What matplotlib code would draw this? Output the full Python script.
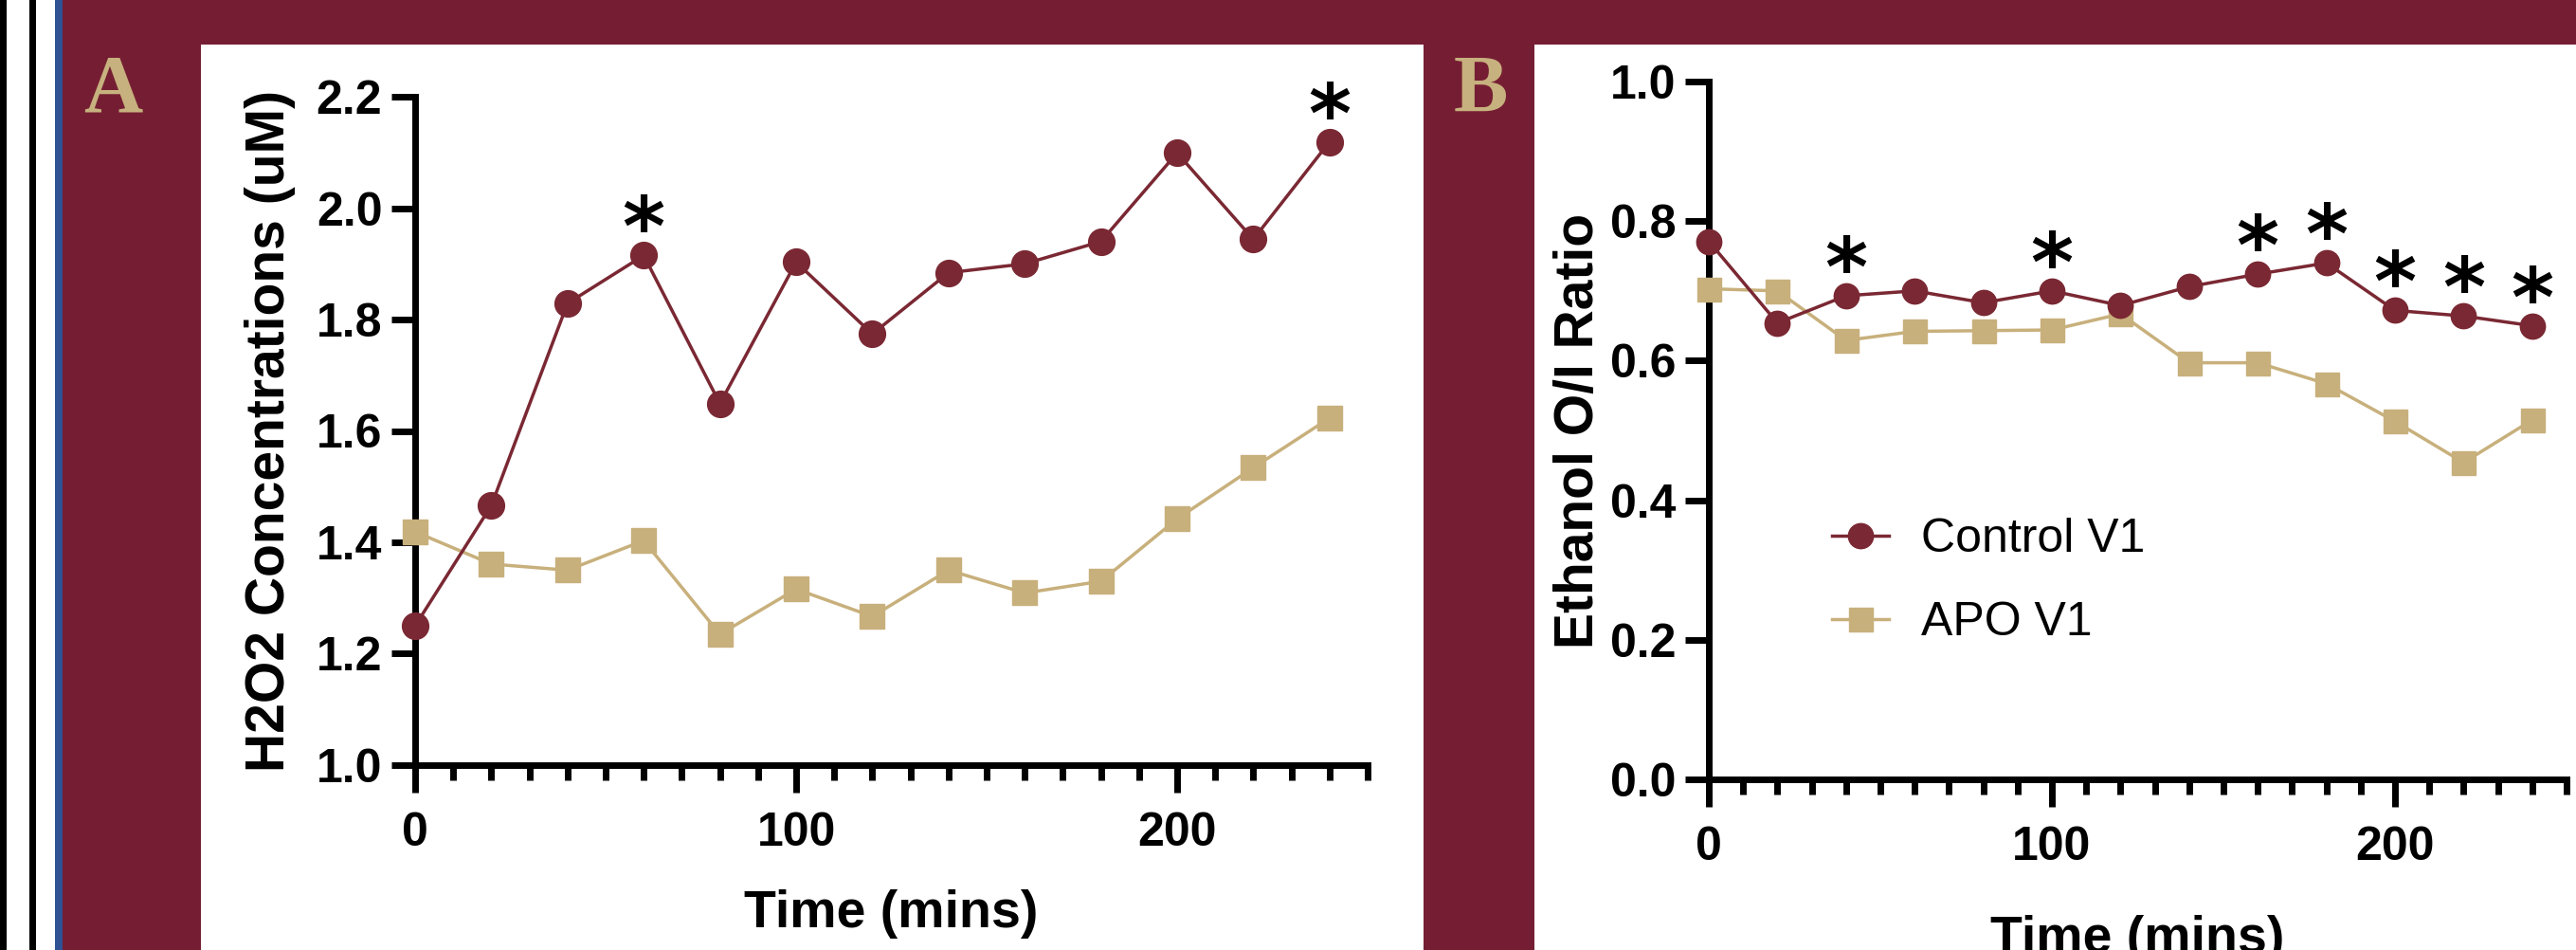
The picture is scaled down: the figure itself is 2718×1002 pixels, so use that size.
# two panel time course: H2O2 (A) and ethanol O/I ratio (B), control vs APO
import matplotlib.pyplot as plt
from matplotlib.patches import Rectangle
from matplotlib.ticker import MultipleLocator

# time points (mins)
time_mins = [0, 20, 40, 60, 80, 100, 120, 140, 160, 180, 200, 220, 240]

# panel A - H2O2 concentrations (uM)
h2o2_control = [1.25, 1.466, 1.829, 1.915, 1.649, 1.903, 1.774, 1.884, 1.900, 1.940, 2.099, 1.944, 2.119]
h2o2_apo = [1.419, 1.361, 1.350, 1.403, 1.235, 1.316, 1.267, 1.350, 1.309, 1.330, 1.442, 1.534, 1.623]
h2o2_star_times = [60, 240]

# panel B - ethanol O/I ratio
ethanol_control = [0.771, 0.654, 0.693, 0.700, 0.683, 0.700, 0.679, 0.706, 0.724, 0.740, 0.672, 0.664, 0.650]
ethanol_apo = [0.703, 0.700, 0.629, 0.642, 0.643, 0.644, 0.667, 0.597, 0.597, 0.567, 0.513, 0.454, 0.515]
ethanol_star_times = [40, 100, 160, 180, 200, 220, 240]

series_labels = ['Control V1', 'APO V1']

# colours
maroon_bg = '#751E33'
control_col = '#7A2833'
apo_col = '#C8B07C'
tan_letter = '#C7B17E'
blue_line = '#2E5294'

W, H = 2718, 1002
fig = plt.figure(figsize=(W / 100, H / 100), dpi=100)
fig.patch.set_facecolor(maroon_bg)


def px_rect(x0, y0, x1, y1):
    # pixel box (top-left origin) -> figure fraction [left, bottom, width, height]
    return [x0 / W, 1 - y1 / H, (x1 - x0) / W, (y1 - y0) / H]


def add_block(x0, y0, x1, y1, color):
    l, b, w, h = px_rect(x0, y0, x1, y1)
    fig.add_artist(Rectangle((l, b), w, h, transform=fig.transFigure,
                             facecolor=color, edgecolor='none', zorder=0))


# stripes on the left edge
add_block(0, 0, 7, H, 'black')
add_block(7, 0, 31, H, 'white')
add_block(31, 0, 38, H, 'black')
add_block(38, 0, 58, H, 'white')
add_block(58, 0, 66, H, blue_line)

# white panels
add_block(212, 47, 1502, H, 'white')
add_block(1619, 47, W, H, 'white')

# panel letters
fig.text(88 / W, 1 - 118 / H, 'A', color=tan_letter, fontsize=62, fontweight='bold',
         family='Liberation Serif', ha='left', va='baseline')
fig.text(1534 / W, 1 - 118 / H, 'B', color=tan_letter, fontsize=62, fontweight='bold',
         family='Liberation Serif', ha='left', va='baseline')

font = 'Liberation Sans'
spine_w = 5


def style_axes(ax, ylo, yhi, ystep, ylabel, ylab_x, xlab_y):
    ax.set_facecolor('none')
    for side in ['top', 'right']:
        ax.spines[side].set_visible(False)
    for side in ['left', 'bottom']:
        ax.spines[side].set_linewidth(spine_w)
    ax.set_xlim(0, 250)
    ax.set_ylim(ylo, yhi)
    ax.xaxis.set_major_locator(MultipleLocator(100))
    ax.xaxis.set_minor_locator(MultipleLocator(10))
    ax.yaxis.set_major_locator(MultipleLocator(ystep))
    ax.tick_params(axis='x', which='major', length=21, width=spine_w, pad=14, labelsize=36)
    ax.tick_params(axis='x', which='minor', length=11.5, width=spine_w)
    ax.tick_params(axis='y', which='major', length=18, width=spine_w, pad=7, labelsize=36)
    for lab in ax.get_xticklabels() + ax.get_yticklabels():
        lab.set_family(font)
        lab.set_fontweight('bold')
    ax.set_ylabel(ylabel, fontsize=41, fontweight='bold', family=font)
    ax.set_xlabel('Time (mins)', fontsize=40, fontweight='bold', family=font)
    ax.yaxis.set_label_coords(ylab_x, 0.5)
    ax.xaxis.set_label_coords(0.5, xlab_y)


def plot_series(ax, control, apo, star_times, ms):
    ax.plot(time_mins, control, color=control_col, lw=2.5, marker='o', ms=ms,
            label=series_labels[0], clip_on=False, zorder=4)
    ax.plot(time_mins, apo, color=apo_col, lw=2.5, marker='s', ms=ms - 1,
            label=series_labels[1], clip_on=False, zorder=3)
    # significance stars above the control points
    for t in star_times:
        yv = control[time_mins.index(t)]
        ax.annotate('*', xy=(t, yv), xytext=(0, 0), textcoords='offset points',
                    ha='center', va='baseline', fontsize=62, fontweight='bold',
                    family='DejaVu Sans', color='black', annotation_clip=False)


# panel A
axA = fig.add_axes(px_rect(438, 102, 1443, 807))
plot_series(axA, h2o2_control, h2o2_apo, h2o2_star_times, 20)
style_axes(axA, 1.0, 2.2, 0.2, 'H2O2 Concentrations (uM)',
           (312 - 438) / (1443 - 438), (807 - 938) / (807 - 102))
axA.yaxis.set_major_formatter(plt.FormatStrFormatter('%.1f'))

# panel B
axB = fig.add_axes(px_rect(1803, 86, 2708, 822))
plot_series(axB, ethanol_control, ethanol_apo, ethanol_star_times, 19)
style_axes(axB, 0.0, 1.0, 0.2, 'Ethanol O/I Ratio',
           (1693 - 1803) / (2708 - 1803), (822 - 965) / (822 - 86))
axB.yaxis.set_major_formatter(plt.FormatStrFormatter('%.1f'))

leg = axB.legend(loc='upper left', bbox_to_anchor=(1933 / W, 1 - 546 / H),
                 bbox_transform=fig.transFigure, frameon=False, borderpad=0,
                 borderaxespad=0, handlelength=1.2, handletextpad=0.68,
                 labelspacing=0.84, prop={'family': font, 'size': 36})

fig.savefig('out.png', dpi=100, facecolor=fig.get_facecolor())
